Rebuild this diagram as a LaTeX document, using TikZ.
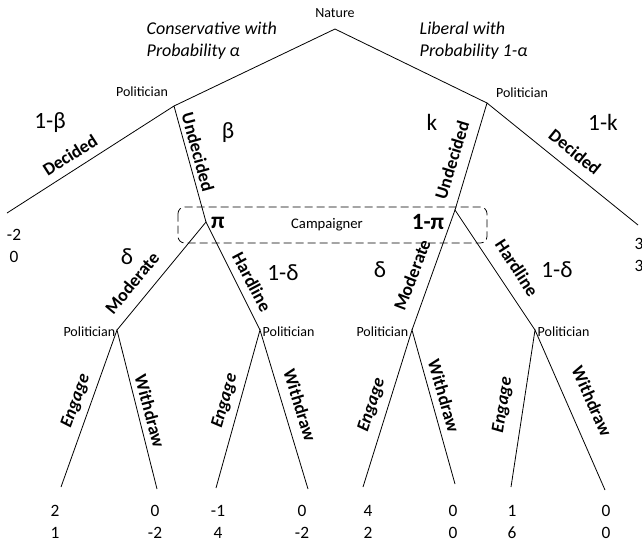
\documentclass[tikz,border=0pt]{standalone}
\usepackage{fontspec}
\setmainfont{Carlito}
\begin{document}
\begin{tikzpicture}[x=0.75pt,y=-0.75pt,line width=0.6pt,
  every node/.style={inner sep=1pt},
  br/.style={font=\fontsize{13.5}{15}\selectfont\bfseries},
  bri/.style={font=\fontsize{13.5}{15}\selectfont\bfseries\itshape},
  prob/.style={font=\fontsize{17.5}{19}\selectfont},
  pl/.style={font=\fontsize{10.5}{12}\selectfont},
  hdr/.style={font=\fontsize{13.5}{16.5}\selectfont\itshape,align=left,anchor=west},
  pay/.style={font=\fontsize{13}{16}\selectfont,align=center}]
\useasboundingbox (0,0) rectangle (642,544);

% tree vertices
\coordinate (nat) at (335,29);
\coordinate (polL) at (174,106);
\coordinate (polR) at (487,103);
\coordinate (dL) at (7,213);
\coordinate (dR) at (638,225);
\coordinate (cL) at (206,222);
\coordinate (cR) at (455,210);
\coordinate (pLL) at (117,330);
\coordinate (pLR) at (260,330);
\coordinate (pRL) at (412,330);
\coordinate (pRR) at (535,330);
\coordinate (e1) at (61,487);   \coordinate (w1) at (157,489);
\coordinate (e2) at (216,488);  \coordinate (w2) at (308,489);
\coordinate (e3) at (363,487);  \coordinate (w3) at (455,484);
\coordinate (e4) at (511,487);  \coordinate (w4) at (605,490);

% information set
\draw[dashed,dash pattern=on 6pt off 3pt,rounded corners=5pt] (178,207) rectangle (487,243);

% edges
\draw (polL) -- (nat) -- (polR);
\draw (dL) -- (polL) -- (cL);
\draw (dR) -- (polR) -- (cR);
\draw (pLL) -- (cL) -- (pLR);
\draw (pRL) -- (cR) -- (pRR);
\draw (e1) -- (pLL) -- (w1);
\draw (e2) -- (pLR) -- (w2);
\draw (e3) -- (pRL) -- (w3);
\draw (e4) -- (pRR) -- (w4);

% player labels
\node[pl] (tNat) at (335,13) {Nature};
\node[pl] (tPolL) at (142,92) {Politician};
\node[pl] (tPolR) at (522,93) {Politician};
\node[font=\fontsize{11}{13}\selectfont] (tCamp) at (327,225) {Campaigner};
\node[pl,anchor=east] (tP1) at (117,332) {Politician};
\node[pl,anchor=west] (tP2) at (261,332) {Politician};
\node[pl,anchor=east] (tP3) at (410,332) {Politician};
\node[pl,anchor=west] (tP4) at (536,332) {Politician};

% nature's moves
\node[hdr] (tCons) at (145,41) {Conservative with\\Probability α};
\node[hdr] (tLib) at (418,41) {Liberal with\\Probability 1-α};

% branch labels
\node[br,rotate=32.6] (lDecL) at (70,155) {Decided};
\node[br,rotate=-74.6] (lUndL) at (198,152) {Undecided};
\node[br,rotate=73] (lUndR) at (452,160) {Undecided};
\node[br,rotate=-39] (lDecR) at (575,152) {Decided};
\node[br,rotate=50.5] (lModL) at (132,283) {Moderate};
\node[br,rotate=-62] (lHarL) at (252,282) {Hardline};
\node[br,rotate=69] (lModR) at (412,275) {Moderate};
\node[br,rotate=-57] (lHarR) at (517,268) {Hardline};
\node[bri,rotate=70] (lE1) at (76,401) {Engage};
\node[br,rotate=-75] (lW1) at (150,411) {Withdraw};
\node[bri,rotate=74] (lE2) at (225,401) {Engage};
\node[br,rotate=-73] (lW2) at (300,405) {Withdraw};
\node[bri,rotate=72] (lE3) at (372,405) {Engage};
\node[br,rotate=-74] (lW3) at (444,396) {Withdraw};
\node[bri,rotate=81] (lE4) at (503,405) {Engage};
\node[br,rotate=-66] (lW4) at (592,401) {Withdraw};

% probabilities
\node[prob] (pb1) at (50,123) {1-β};
\node[prob] (pb2) at (228,133) {β};
\node[prob] (pk1) at (432,122) {k};
\node[prob] (pk2) at (603,122) {1-k};
\node[prob] (pd1) at (127,257) {δ};
\node[prob] (pd2) at (283,273) {1-δ};
\node[prob] (pd3) at (380,270) {δ};
\node[prob] (pd4) at (557,270) {1-δ};
\node[prob,font=\fontsize{17.5}{19}\selectfont\bfseries] (pp1) at (218,223) {π};
\node[prob,font=\fontsize{17.5}{19}\selectfont\bfseries] (pp2) at (428,222) {1-π};

% payoffs
\node[pay] (y0) at (14,246) {-2\\0};
\node[pay] (y9) at (639,255) {3\\3};
\node[pay] (y1) at (55,522) {2\\1};
\node[pay] (y2) at (155,522) {0\\-2};
\node[pay] (y3) at (218,522) {-1\\4};
\node[pay] (y4) at (302,522) {0\\-2};
\node[pay] (y5) at (368,522) {4\\2};
\node[pay] (y6) at (453,522) {0\\0};
\node[pay] (y7) at (512,522) {1\\6};
\node[pay] (y8) at (606,522) {0\\0};
\end{tikzpicture}
\end{document}
